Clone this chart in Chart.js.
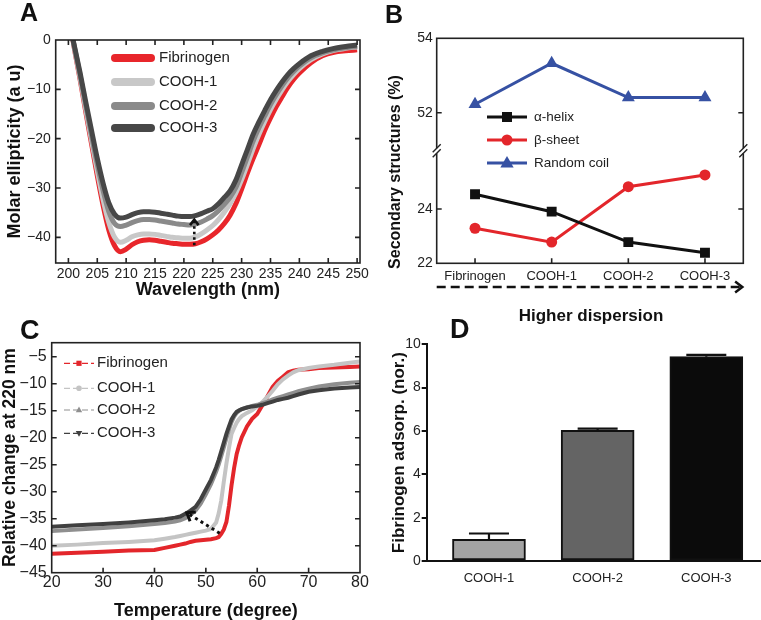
<!DOCTYPE html>
<html>
<head>
<meta charset="utf-8">
<script src="https://cdn.jsdelivr.net/npm/chart.js@4.4.1/dist/chart.umd.min.js"></script>
<style>
  body { margin: 0; background: #fff; font-family: "Liberation Sans", Arial, Helvetica, sans-serif; }
  #wrap { position: relative; width: 761px; height: 620px; overflow: hidden; }
  canvas { position: absolute; }
  .lbl { position: absolute; font-weight: bold; color: #111; line-height: 1; white-space: nowrap; }
</style>
</head>
<body>
<div id="wrap">
  <canvas id="chA" width="380" height="305" style="left:0;top:0"></canvas>
  <canvas id="chB" width="381" height="300" style="left:380px;top:0"></canvas>
  <canvas id="chC" width="380" height="322" style="left:0;top:300px"></canvas>
  <canvas id="chD" width="381" height="320" style="left:380px;top:300px"></canvas>

  <div class="lbl" style="left:20px;top:-0.5px;font-size:25px">A</div>
  <div class="lbl" style="left:385px;top:1.5px;font-size:25px">B</div>
  <div class="lbl" style="left:20px;top:316.5px;font-size:27px">C</div>
  <div class="lbl" style="left:450px;top:315.5px;font-size:27px">D</div>
  <div class="lbl" style="left:245px;top:162px;width:300px;height:20px;line-height:20px;font-size:16px;text-align:center;transform:rotate(-90deg)">Secondary structures (%)</div>
  <div class="lbl" style="left:441px;top:306px;width:300px;line-height:20px;font-size:17px;text-align:center">Higher dispersion</div>
</div>

<script>
const FONT = '"Liberation Sans", Arial, Helvetica, sans-serif';
Chart.defaults.font.family = FONT;
Chart.defaults.color = '#222';

const seriesNames = ['Fibrinogen', 'COOH-1', 'COOH-2', 'COOH-3'];

// A - CD spectra
const aWavelength = [200.8, 201, 202, 203, 204, 205, 206, 207, 208, 209, 210, 211, 212, 213, 214, 215, 216, 217, 218, 219, 220,
  221, 222, 223, 224, 225, 226, 227, 228, 229, 230, 231, 232, 233, 234, 235, 236, 237, 238, 239, 240, 242, 244, 246, 248, 250];
const aFibrinogen = [0, -1.5, -7.8, -14.5, -21.0, -27.5, -33.5, -38.5, -41.7, -42.9, -42.4, -41.5, -40.9, -40.6, -40.5, -40.6, -40.8, -41.0, -41.2, -41.3, -41.4,
  -41.4, -41.3, -40.9, -40.3, -39.5, -38.5, -37.2, -35.5, -33.2, -30.2, -27.0, -24.0, -21.2, -18.3, -15.8, -13.5, -11.5, -9.6, -8.0, -6.7, -4.6, -3.2, -2.5, -2.2, -2.0];
const aCooh1 = [0, -1.4, -7.5, -14.0, -20.3, -26.5, -32.3, -37.0, -40.0, -41.0, -40.6, -39.9, -39.5, -39.3, -39.3, -39.4, -39.6, -39.8, -40.0, -40.1, -40.2,
  -40.2, -39.9, -39.3, -38.5, -37.6, -36.4, -34.9, -33.2, -31.0, -28.3, -25.2, -22.0, -19.1, -16.5, -14.1, -12.0, -10.1, -8.4, -7.0, -5.8, -4.0, -2.8, -2.1, -1.7, -1.4];
const aCooh2 = [0, -1.2, -7.0, -13.2, -19.3, -25.2, -30.5, -34.8, -37.2, -37.8, -37.5, -37.0, -36.6, -36.4, -36.4, -36.5, -36.7, -36.9, -37.1, -37.3, -37.4,
  -37.5, -37.3, -36.9, -36.3, -35.6, -34.6, -33.3, -31.9, -29.9, -26.9, -23.7, -20.5, -17.8, -15.4, -13.1, -11.1, -9.3, -7.7, -6.4, -5.3, -3.6, -2.6, -2.0, -1.6, -1.3];
const aCooh3 = [0, -1.0, -6.5, -12.5, -18.3, -24.0, -29.0, -33.0, -35.3, -36.1, -35.9, -35.4, -35.0, -34.8, -34.8, -34.9, -35.1, -35.3, -35.5, -35.7, -35.8,
  -35.8, -35.6, -35.2, -34.7, -34.2, -33.2, -31.9, -30.6, -28.4, -25.3, -22.2, -19.1, -16.6, -14.3, -12.1, -10.2, -8.5, -7.0, -5.8, -4.8, -3.2, -2.3, -1.7, -1.3, -1.0];
const aTicksX = [200, 205, 210, 215, 220, 225, 230, 235, 240, 245, 250];
const aTicksY = [0, -10, -20, -30, -40];

// B - secondary structure content
const bCats = ['Fibrinogen', 'COOH-1', 'COOH-2', 'COOH-3'];
const bHelix = [24.54, 23.90, 22.78, 22.39];
const bSheet = [23.29, 22.78, 24.82, 25.25];
const bCoil = [52.23, 53.33, 52.41, 52.41];
const bTicksTop = [52, 54];
const bTicksBot = [22, 24];

// C - thermal denaturation at 220 nm
const cTemp = [20, 25, 30, 35, 40, 42, 44, 45, 46, 47, 48, 49, 50, 51, 52, 52.5, 53, 53.5, 54, 54.5, 55, 55.5, 56, 56.5, 57,
  58, 59, 60, 61, 62, 63, 64, 65, 66, 67, 68, 70, 72, 75, 78, 80];
const cFibrinogen = [-41.5, -41.3, -41.1, -40.9, -40.8, -40.4, -40.0, -39.8, -39.6, -39.3, -39.1, -39.0, -38.9, -38.8, -38.6, -38.4, -37.8, -37.0, -35.6, -32.6, -28.8, -25.6, -23.0, -21.3, -19.9,
  -17.9, -16.5, -15.6, -14.0, -12.3, -10.6, -9.5, -8.7, -7.9, -7.6, -7.4, -7.3, -7.1, -7.0, -6.9, -6.8];
const cCooh1 = [-40.0, -39.8, -39.5, -39.3, -39.0, -38.7, -38.4, -38.2, -38.0, -37.8, -37.6, -37.4, -37.2, -36.9, -35.7, -34.0, -31.6, -28.1, -24.8, -21.9, -19.3, -18.2, -17.2, -16.5, -16.0,
  -15.4, -14.9, -14.2, -13.4, -12.4, -11.3, -10.1, -9.2, -8.5, -7.9, -7.5, -7.1, -6.8, -6.5, -6.1, -5.9];
const cCooh2 = [-37.3, -37.0, -36.7, -36.4, -36.0, -35.8, -35.5, -35.3, -34.9, -34.3, -33.5, -32.2, -30.5, -28.6, -26.3, -25.0, -23.4, -21.8, -20.1, -18.5, -17.1, -16.1, -15.4, -15.0, -14.7,
  -14.4, -14.1, -13.9, -13.6, -13.3, -12.9, -12.6, -12.3, -12.0, -11.7, -11.4, -10.9, -10.5, -10.1, -9.8, -9.7];
const cCooh3 = [-36.5, -36.2, -36.0, -35.7, -35.3, -35.1, -34.8, -34.6, -34.1, -33.5, -32.8, -31.4, -29.6, -27.8, -25.5, -24.1, -22.5, -20.9, -19.3, -17.9, -16.6, -15.8, -15.2, -14.9, -14.7,
  -14.4, -14.2, -14.1, -13.9, -13.6, -13.3, -13.0, -12.8, -12.6, -12.3, -12.0, -11.5, -11.2, -10.9, -10.7, -10.6];
const cTicksX = [20, 30, 40, 50, 60, 70, 80];
const cTicksY = [-45, -40, -35, -30, -25, -20, -15, -10, -5];

// D - fibrinogen adsorption
const dCats = ['COOH-1', 'COOH-2', 'COOH-3'];
const dMeans = [1.0, 6.03, 9.43];
const dErr = [0.27, 0.08, 0.08];
const dTicksY = [0, 2, 4, 6, 8, 10];

const minus = v => (v < 0 ? '\u2212' + Math.abs(v) : String(v));
const setTicks = list => s => { s.ticks = list.map(v => ({ value: v })); };
const title = (text, size, pad) => ({ display: true, text, color: '#111', padding: pad, font: { family: FONT, size, weight: 'bold' } });
const noGrid = { display: false, drawTicks: false };

function series(label, xs, ys, color, width, order, extra) {
  return Object.assign({
    label, order, borderColor: color, backgroundColor: color, borderWidth: width,
    pointRadius: 0, fill: false, data: xs.map((x, i) => ({ x, y: ys[i] }))
  }, extra || {});
}

function marker(ctx, style, rot, x, y, r) {
  ctx.beginPath();
  if (style === 'rect') {
    ctx.rect(x - r, y - r, 2 * r, 2 * r);
  } else if (style === 'circle') {
    ctx.arc(x, y, r, 0, Math.PI * 2);
  } else {
    const s = rot === 180 ? -1 : 1;
    ctx.moveTo(x, y - s * r);
    ctx.lineTo(x + r * 0.95, y + s * r * 0.65);
    ctx.lineTo(x - r * 0.95, y + s * r * 0.65);
    ctx.closePath();
  }
  ctx.fill();
}

function arrow(ctx, x0, y0, x1, y1, dash, lw, head) {
  ctx.save();
  ctx.strokeStyle = '#111';
  ctx.lineWidth = lw;
  ctx.setLineDash(dash);
  ctx.beginPath(); ctx.moveTo(x0, y0); ctx.lineTo(x1, y1); ctx.stroke();
  ctx.setLineDash([]);
  const ang = Math.atan2(y1 - y0, x1 - x0);
  ctx.beginPath();
  ctx.moveTo(x1 - head * Math.cos(ang - 0.65), y1 - head * Math.sin(ang - 0.65));
  ctx.lineTo(x1, y1);
  ctx.lineTo(x1 - head * Math.cos(ang + 0.65), y1 - head * Math.sin(ang + 0.65));
  ctx.stroke();
  ctx.restore();
}

// box round the plot with inward ticks, plus the axis break of panel B
const framePlugin = {
  id: 'frame',
  afterDatasetsDraw(chart, args, o) {
    if (!o.on) return;
    const { ctx, chartArea: a } = chart;
    ctx.save();
    ctx.strokeStyle = '#222';
    ctx.lineWidth = 1.6;
    ctx.strokeRect(a.left, a.top, a.right - a.left, a.bottom - a.top);
    const len = 5;
    ctx.beginPath();
    const sx = chart.scales.x;
    sx.ticks.forEach((t, i) => {
      const px = sx.getPixelForTick(i);
      if (px <= a.left + 1 || px >= a.right - 1) return;
      if (o.bottom) { ctx.moveTo(px, a.bottom); ctx.lineTo(px, a.bottom - len); }
      if (o.top) { ctx.moveTo(px, a.top); ctx.lineTo(px, a.top + len); }
    });
    o.yScales.forEach(id => {
      const s = chart.scales[id];
      s.ticks.forEach((t, i) => {
        const py = s.getPixelForTick(i);
        if (py <= a.top + 1 || py >= a.bottom - 1) return;
        ctx.moveTo(a.left, py); ctx.lineTo(a.left + len, py);
        ctx.moveTo(a.right, py); ctx.lineTo(a.right - len, py);
      });
    });
    ctx.stroke();
    if (o.breakScale) {
      const yb = chart.scales[o.breakScale].bottom;
      [a.left, a.right].forEach(xb => {
        ctx.fillStyle = '#fff';
        ctx.fillRect(xb - 3, yb - 2.5, 6, 5);
        ctx.beginPath();
        [-2.5, 2.5].forEach(d => { ctx.moveTo(xb - 4, yb + d + 4); ctx.lineTo(xb + 4, yb + d - 4); });
        ctx.lineWidth = 1.4;
        ctx.stroke();
      });
    }
    ctx.restore();
  }
};

// in-plot legends
const keyPlugin = {
  id: 'key',
  afterDatasetsDraw(chart, args, o) {
    if (!o.rows) return;
    const ctx = chart.ctx;
    ctx.save();
    chart.data.datasets.forEach((ds, i) => {
      const y = o.rows[i];
      ctx.strokeStyle = ds.borderColor;
      ctx.lineWidth = o.lineWidth;
      ctx.lineCap = o.cap || 'butt';
      ctx.setLineDash(o.dash || []);
      ctx.beginPath(); ctx.moveTo(o.x0, y); ctx.lineTo(o.x1, y); ctx.stroke();
      ctx.setLineDash([]);
      if (o.markers) {
        ctx.fillStyle = ds.borderColor;
        marker(ctx, ds.pointStyle, ds.pointRotation, (o.x0 + o.x1) / 2, y, o.markers[i]);
      }
      ctx.fillStyle = '#222';
      ctx.font = o.font + 'px ' + FONT;
      ctx.textBaseline = 'middle';
      ctx.fillText(ds.label, o.tx, y);
    });
    ctx.restore();
  }
};

const arrowPlugin = {
  id: 'arrows',
  afterDatasetsDraw(chart, args, o) {
    if (!o.from) return;
    const { ctx, chartArea: a, scales: { x, y } } = chart;
    if (o.pixelY) {
      arrow(ctx, a.left, o.pixelY, a.right - 1, o.pixelY, o.dash, o.lw, o.head);
      return;
    }
    arrow(ctx, x.getPixelForValue(o.from[0]), y.getPixelForValue(o.from[1]),
      x.getPixelForValue(o.to[0]), y.getPixelForValue(o.to[1]), o.dash, o.lw, o.head);
  }
};

const errPlugin = {
  id: 'errbars',
  afterDatasetsDraw(chart, args, o) {
    if (!o.err) return;
    const { ctx, scales: { x, y } } = chart;
    ctx.save();
    ctx.strokeStyle = '#111';
    ctx.lineWidth = 2.2;
    o.mean.forEach((m, i) => {
      const px = x.getPixelForValue(i);
      const y0 = y.getPixelForValue(m), y1 = y.getPixelForValue(m + o.err[i]);
      ctx.beginPath();
      ctx.moveTo(px, y0); ctx.lineTo(px, y1);
      ctx.moveTo(px - o.cap, y1); ctx.lineTo(px + o.cap, y1);
      ctx.stroke();
    });
    ctx.restore();
  }
};

const plugins = [framePlugin, keyPlugin, arrowPlugin, errPlugin];
const quiet = { legend: { display: false }, tooltip: { enabled: false } };

// ---------- A ----------
const colA = ['#e8262b', '#c8c8c8', '#8a8a8a', '#474747'];
const aSeries = [aFibrinogen, aCooh1, aCooh2, aCooh3];
new Chart(document.getElementById('chA'), {
  type: 'line',
  data: {
    datasets: aSeries.map((ys, i) => series(seriesNames[i], aWavelength, ys, colA[i], 5, 4 - i, { cubicInterpolationMode: 'monotone' }))
  },
  options: {
    responsive: false, animation: false,
    layout: { padding: { left: 0, top: 40, right: 20, bottom: 0 } },
    plugins: Object.assign({
      frame: { on: true, top: true, bottom: true, yScales: ['y'] },
      key: { rows: [58, 82, 106, 128], x0: 115, x1: 151, lineWidth: 8, cap: 'round', tx: 159, font: 15 },
      arrows: { from: [221.8, -41.6], to: [221.8, -36.4], dash: [2.5, 3], lw: 2.6, head: 7 }
    }, quiet),
    scales: {
      x: {
        type: 'linear', min: 197.8, max: 250.5, afterBuildTicks: setTicks(aTicksX),
        ticks: { font: { size: 14 }, color: '#222', padding: 3, autoSkip: false, maxRotation: 0 },
        grid: noGrid, border: { display: false },
        title: title('Wavelength (nm)', 18, { top: 0, bottom: 4 }),
        afterFit: s => { s.height = 42; }
      },
      y: {
        min: -45.2, max: 0, afterBuildTicks: setTicks(aTicksY),
        ticks: { font: { size: 14 }, color: '#222', padding: 5, callback: minus },
        grid: noGrid, border: { display: false },
        title: title('Molar ellipticity (a u)', 18, { top: 4, bottom: 0 }),
        afterFit: s => { s.width = 55.7; }
      }
    }
  },
  plugins
});

// ---------- B ----------
new Chart(document.getElementById('chB'), {
  type: 'line',
  data: {
    labels: bCats,
    datasets: [
      { label: '\u03b1-helix', data: bHelix, yAxisID: 'yBot', order: 1, borderColor: '#111', backgroundColor: '#111',
        borderWidth: 3, pointStyle: 'rect', pointRadius: 7, pointBorderWidth: 0 },
      { label: '\u03b2-sheet', data: bSheet, yAxisID: 'yBot', order: 2, borderColor: '#e3262b', backgroundColor: '#e3262b',
        borderWidth: 3, pointStyle: 'circle', pointRadius: 5.5, pointBorderWidth: 0 },
      { label: 'Random coil', data: bCoil, yAxisID: 'yTop', order: 3, borderColor: '#3651a3', backgroundColor: '#3651a3',
        borderWidth: 3, pointStyle: 'triangle', pointRadius: 7.5, pointBorderWidth: 0 }
    ]
  },
  options: {
    responsive: false, animation: false,
    layout: { padding: { left: 0, top: 38.3, right: 17.7, bottom: 0 } },
    plugins: Object.assign({
      frame: { on: true, top: false, bottom: true, yScales: ['yTop', 'yBot'], breakScale: 'yTop' },
      key: { rows: [117, 140, 163], x0: 107, x1: 147, lineWidth: 3, markers: [5, 5.5, 7], tx: 154, font: 13.5 },
      arrows: { from: [0, 0], pixelY: 287, dash: [9, 5], lw: 2.5, head: 9 }
    }, quiet),
    scales: {
      x: {
        type: 'category', offset: true,
        ticks: { font: { size: 13 }, color: '#222', padding: 5, autoSkip: false, maxRotation: 0 },
        grid: noGrid, border: { display: false },
        afterFit: s => { s.height = 36.7; }
      },
      yBot: {
        type: 'linear', position: 'left', stack: 'sec', stackWeight: 1, min: 22, max: 26.14,
        afterBuildTicks: setTicks(bTicksBot),
        ticks: { font: { size: 14 }, color: '#222', padding: 4 },
        grid: noGrid, border: { display: false },
        afterFit: s => { s.width = 56.7; }
      },
      yTop: {
        type: 'linear', position: 'left', stack: 'sec', stackWeight: 1, min: 50.98, max: 54,
        afterBuildTicks: setTicks(bTicksTop),
        ticks: { font: { size: 14 }, color: '#222', padding: 4 },
        grid: noGrid, border: { display: false },
        afterFit: s => { s.width = 56.7; }
      }
    }
  },
  plugins
});

// ---------- C ----------
const colC = ['#e3262b', '#c4c4c4', '#8f8f8f', '#404040'];
const cSeries = [cFibrinogen, cCooh1, cCooh2, cCooh3];
const cStyles = [['rect', 0], ['circle', 0], ['triangle', 0], ['triangle', 180]];
new Chart(document.getElementById('chC'), {
  type: 'line',
  data: {
    datasets: cSeries.map((ys, i) => series(seriesNames[i], cTemp, ys, colC[i], 4, 4 - i,
      { pointStyle: cStyles[i][0], pointRotation: cStyles[i][1] }))
  },
  options: {
    responsive: false, animation: false,
    layout: { padding: { left: 0, top: 42.7, right: 20, bottom: 0 } },
    plugins: Object.assign({
      frame: { on: true, top: false, bottom: true, yScales: ['y'] },
      key: { rows: [63.3, 88.3, 110, 133.3], x0: 64, x1: 94, lineWidth: 1.2, dash: [6, 3], markers: [2.6, 2.8, 3.4, 3.4], tx: 97, font: 15 },
      arrows: { from: [52.7, -37.7], to: [46.3, -33.9], dash: [3, 3.5], lw: 3, head: 9 }
    }, quiet),
    scales: {
      x: {
        type: 'linear', min: 20, max: 80, afterBuildTicks: setTicks(cTicksX),
        ticks: { font: { size: 16 }, color: '#222', padding: 0, autoSkip: false, maxRotation: 0 },
        grid: noGrid, border: { display: false },
        title: title('Temperature (degree)', 18, { top: 0, bottom: 0 }),
        afterFit: s => { s.height = 49.3; }
      },
      y: {
        min: -45, max: -2.4, afterBuildTicks: setTicks(cTicksY),
        ticks: { font: { size: 16 }, color: '#222', padding: 5, callback: minus },
        grid: noGrid, border: { display: false },
        title: title('Relative change at 220 nm', 17.5, { top: 0, bottom: 0 }),
        afterFit: s => { s.width = 51.7; }
      }
    }
  },
  plugins
});

// ---------- D ----------
new Chart(document.getElementById('chD'), {
  type: 'bar',
  data: {
    datasets: [{
      data: dCats.map((c, i) => ({ x: i, y: dMeans[i] })),
      backgroundColor: ['#a3a3a3', '#646464', '#0b0b0b'],
      borderColor: '#111', borderWidth: 2, borderSkipped: false, barThickness: 73
    }]
  },
  options: {
    responsive: false, animation: false,
    layout: { padding: { left: 0, top: 44.3, right: 1, bottom: 0 } },
    plugins: Object.assign({ errbars: { mean: dMeans, err: dErr, cap: 20 } }, quiet),
    scales: {
      x: {
        type: 'linear', offset: false, min: -0.573, max: 2.494,
        afterBuildTicks: s => { s.ticks = dCats.map((c, i) => ({ value: i })); },
        ticks: { font: { size: 13 }, color: '#222', padding: 10, autoSkip: false, maxRotation: 0, callback: v => dCats[v] },
        grid: noGrid, border: { display: true, color: '#111', width: 2 },
        afterFit: s => { s.height = 59; }
      },
      y: {
        min: 0, max: 10, afterBuildTicks: setTicks(dTicksY),
        ticks: { font: { size: 14 }, color: '#222', padding: 1 },
        grid: { display: true, drawOnChartArea: false, drawTicks: true, tickLength: 5, color: '#111', lineWidth: 2 },
        border: { display: true, color: '#111', width: 2 },
        title: title('Fibrinogen adsorp. (nor.)', 17, { top: 9, bottom: 0 }),
        afterFit: s => { s.width = 46.7; }
      }
    }
  },
  plugins
});
</script>
</body>
</html>
